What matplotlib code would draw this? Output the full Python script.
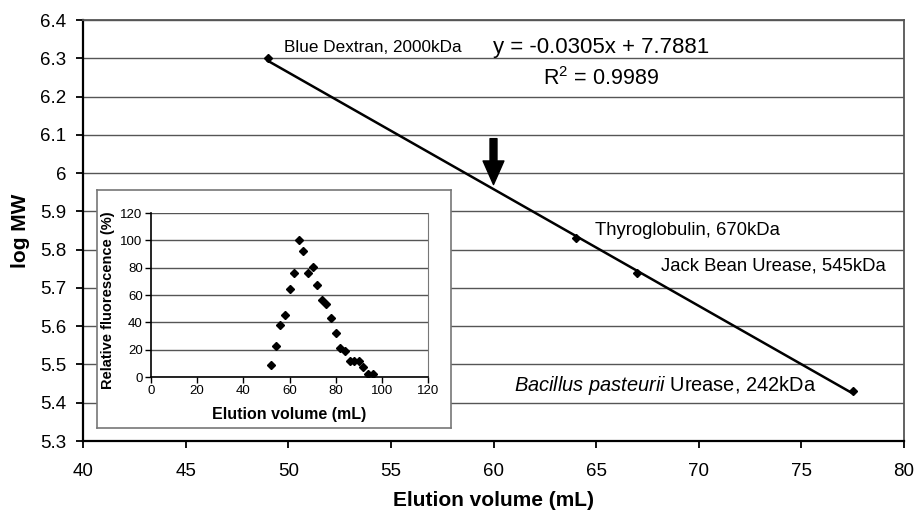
"""Calibration curve (log MW vs elution volume) with elution-profile inset."""

import matplotlib

matplotlib.use("Agg")
import matplotlib.pyplot as plt  # noqa: E402
import numpy as np  # noqa: E402

plt.rcParams["font.family"] = ["Liberation Sans", "DejaVu Sans"]
plt.rcParams["mathtext.fontset"] = "custom"
plt.rcParams["mathtext.rm"] = "Liberation Sans"
plt.rcParams["mathtext.it"] = "Liberation Sans:italic"

# calibration standards
std_volume = [49.0, 64.0, 67.0, 77.5]
std_logmw = [6.30, 5.83, 5.74, 5.43]
std_labels = [
    "Blue Dextran, 2000kDa",
    "Thyroglobulin, 670kDa",
    "Jack Bean Urease, 545kDa",
    r"$\it{Bacillus\ pasteurii}$ Urease, 242kDa",
]
slope, intercept, r2 = -0.0305, 7.7881, 0.9989
sample_volume = 60.0

# elution profile (inset)
elu_volume = [52, 54, 56, 58, 60, 62, 64, 66, 68, 70, 72, 74, 76, 78, 80,
              82, 84, 86, 88, 90, 92, 94, 96]
elu_fluor = [9, 23, 38, 45.5, 64.5, 76, 100, 92, 76, 80.5, 67, 56.5, 53.5,
             43, 32.5, 21, 19, 11.5, 12, 12, 7.5, 2.5, 2]

fig = plt.figure(figsize=(9.14, 5.15), dpi=100)
ax = fig.add_axes([83 / 914, 74 / 515, 821 / 914, 421 / 515])

ax.set_xlim(40, 80)
ax.set_ylim(5.3, 6.4)
yticks = np.round(np.arange(5.3, 6.41, 0.1), 1)
ax.set_xticks(np.arange(40, 81, 5))
ax.set_yticks(yticks)
ax.set_yticklabels([f"{v:g}" for v in yticks])
ax.grid(axis="y", color="#555555", lw=1.0)
ax.set_axisbelow(True)
for side in ("left", "bottom"):
    ax.spines[side].set_linewidth(1.6)
    ax.spines[side].set_color("black")
for side in ("top", "right"):
    ax.spines[side].set_linewidth(1.3)
    ax.spines[side].set_color("#555555")
ax.tick_params(axis="both", labelsize=13.5, length=5, width=1.3, direction="out")
ax.tick_params(axis="x", pad=11)
ax.tick_params(axis="y", pad=7)

xfit = np.array([min(std_volume), max(std_volume)])
ax.plot(xfit, slope * xfit + intercept, color="black", lw=1.8, zorder=3)
ax.plot(std_volume, std_logmw, "D", color="black", ms=4, zorder=4)

label_pos = [(49.8, 6.327), (64.95, 5.851), (68.15, 5.757), (61.0, 5.446)]
label_size = [12.3, 13.3, 13.3, 14.4]
for (lx, ly), txt, fs in zip(label_pos, std_labels, label_size):
    ax.text(lx, ly, txt, fontsize=fs, va="center", ha="left")

ax.text(59.98, 6.327, f"y = {slope}x + {intercept}", fontsize=16,
        va="center", ha="left")
ax.text(65.24, 6.246, rf"R$^2$ = {r2}", fontsize=15.5, va="center", ha="center")

ax.annotate("", xy=(sample_volume, 5.97), xytext=(sample_volume, 6.09),
            arrowprops=dict(facecolor="black", edgecolor="black", width=5,
                            headwidth=15, headlength=17))

ax.set_xlabel("Elution volume (mL)", fontsize=15, fontweight="bold")
ax.set_ylabel("log MW", fontsize=15, fontweight="bold")
ax.xaxis.set_label_coords(0.5, -0.118)
ax.yaxis.set_label_coords(-0.065, 0.5)

# inset frame
frame = fig.add_axes([97 / 914, 87 / 515, 354 / 914, 238 / 515])
frame.set_xticks([])
frame.set_yticks([])
for sp in frame.spines.values():
    sp.set_color("#777777")
    sp.set_linewidth(1.2)

ins = fig.add_axes([151 / 914, 138 / 515, 277 / 914, 164 / 515])
ins.set_xlim(0, 120)
ins.set_ylim(0, 120)
ins.set_xticks(np.arange(0, 121, 20))
ins.set_yticks(np.arange(0, 121, 20))
ins.grid(axis="y", color="#555555", lw=1.0)
ins.set_axisbelow(True)
ins.spines["top"].set_visible(False)
ins.spines["right"].set_color("#777777")
ins.spines["left"].set_linewidth(1.2)
ins.spines["bottom"].set_linewidth(1.2)
ins.tick_params(axis="both", labelsize=9.5, length=4, width=1.0, pad=2)
ins.plot(elu_volume, elu_fluor, "D", color="black", ms=4.5, zorder=3)
ins.set_xlabel("Elution volume (mL)", fontsize=11.5, fontweight="bold")
ins.set_ylabel("Relative fluorescence (%)", fontsize=10.5, fontweight="bold")
ins.xaxis.set_label_coords(0.5, -0.18)
ins.yaxis.set_label_coords(-0.13, 0.47)

fig.savefig("out.png", dpi=100)
plt.close(fig)
